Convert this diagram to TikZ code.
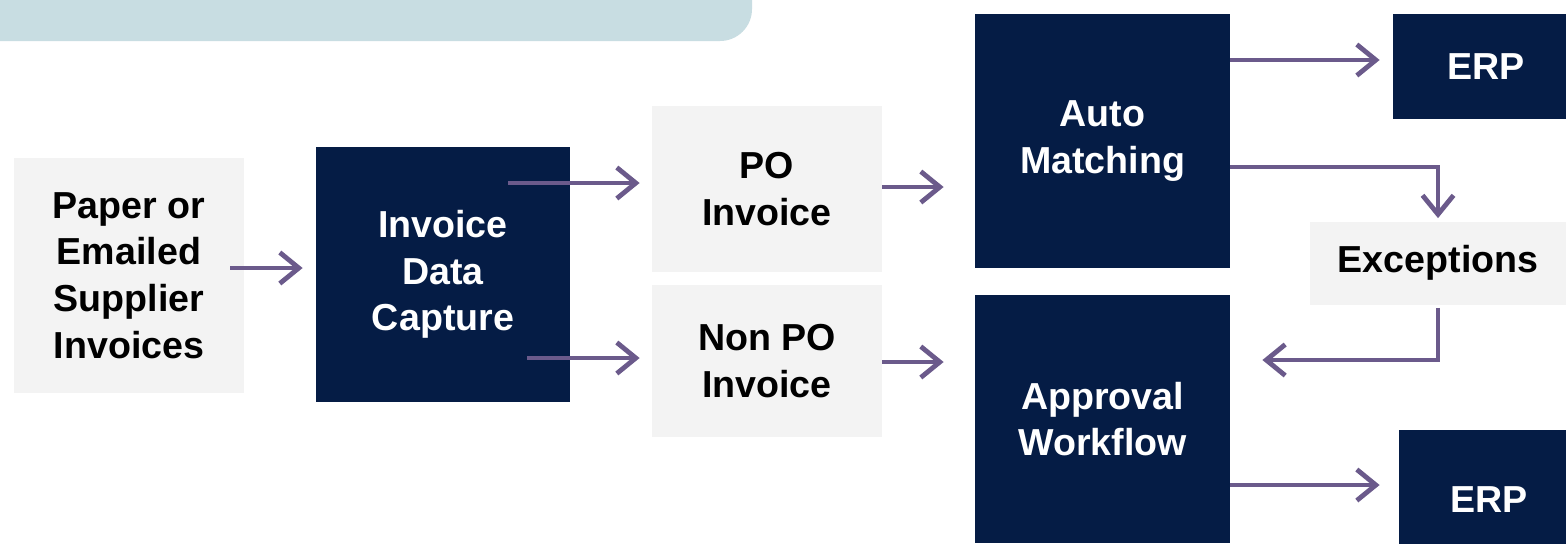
\documentclass[tikz,border=0pt]{standalone}
\usepackage{fontspec}
\setmainfont{Liberation Sans}
\usetikzlibrary{arrows.meta,calc}
\definecolor{navy}{HTML}{051C45}
\definecolor{lightbox}{HTML}{F3F3F3}
\definecolor{banner}{HTML}{C8DDE2}
\definecolor{arrowc}{HTML}{6B5A8B}
\begin{document}
\begin{tikzpicture}[x=0.5pt,y=-0.5pt,
  txt/.style={font=\bfseries\fontsize{18.8}{23.3}\selectfont, align=center, inner sep=0pt},
  lightnode/.style={txt, fill=lightbox, text=black},
  darknode/.style={txt, fill=navy, text=white},
  arr/.style={draw=arrowc, line width=2.4pt, -{Straight Barb[length=9.5pt,width=15.5pt,line width=2.4pt]}}
]
\useasboundingbox (0,0) rectangle (1566,543);
\clip (0,0) rectangle (1566,543);
\fill[white] (0,0) rectangle (1566,543);
% banner
\fill[banner, rounded corners=16pt] (-40,-60) rectangle (752,41);

% nodes
\node[lightnode, minimum width=115pt, minimum height=117.5pt] (paper) at (129,275.5) {Paper or\\Emailed\\Supplier\\Invoices};
\node[darknode, minimum width=127pt, minimum height=127.5pt] (idc) at (443,274.5) {Invoice\\Data\\Capture};
\node[lightnode, minimum width=115pt, minimum height=83pt] (po) at (767,189) {PO\\Invoice};
\node[lightnode, minimum width=115pt, minimum height=76pt] (nonpo) at (767,361) {Non PO\\Invoice};
\node[darknode, minimum width=127.5pt, minimum height=127pt] (auto) at (1102.5,141) {Auto\\Matching};
\node[darknode, minimum width=127.5pt, minimum height=124pt] (appr) at (1102.5,419) {Approval\\Workflow};
\node[darknode, minimum width=93pt, minimum height=52.5pt] (erpa) at (1486,66.5) {ERP};
\node[lightnode, minimum width=128pt, minimum height=41.5pt] (exc) at (1438,263) {Exceptions};
\node[darknode, minimum width=90pt, minimum height=70pt] (erpb) at (1489,500) {ERP};

% connectors
\draw[arr] ($(paper.east)+(-14,-7.5)$) -- ($(idc.west)+(-13,-6.5)$);
\draw[arr] ($(idc.east)+(-62,-91.5)$) -- ($(po.west)+(-12,-6)$);
\draw[arr] ($(idc.east)+(-43,83.5)$) -- ($(nonpo.west)+(-12,-3)$);
\draw[arr] ($(po.east)+(0,-2)$) -- ($(auto.west)+(-31,46)$);
\draw[arr] ($(nonpo.east)+(0,1)$) -- ($(appr.west)+(-31,-57)$);
\draw[arr] ($(auto.east)+(0,-81)$) -- ($(erpa.west)+(-13,-6.5)$);
\draw[arr] ($(auto.east)+(0,26)$) -| ($(exc.north)+(0,-3)$);
\draw[arr] ($(exc.south)+(0,3)$) |- ($(appr.east)+(32,-59)$);
\draw[arr] ($(appr.east)+(0,66)$) -- ($(erpb.west)+(-19,-15)$);
\end{tikzpicture}
\end{document}
